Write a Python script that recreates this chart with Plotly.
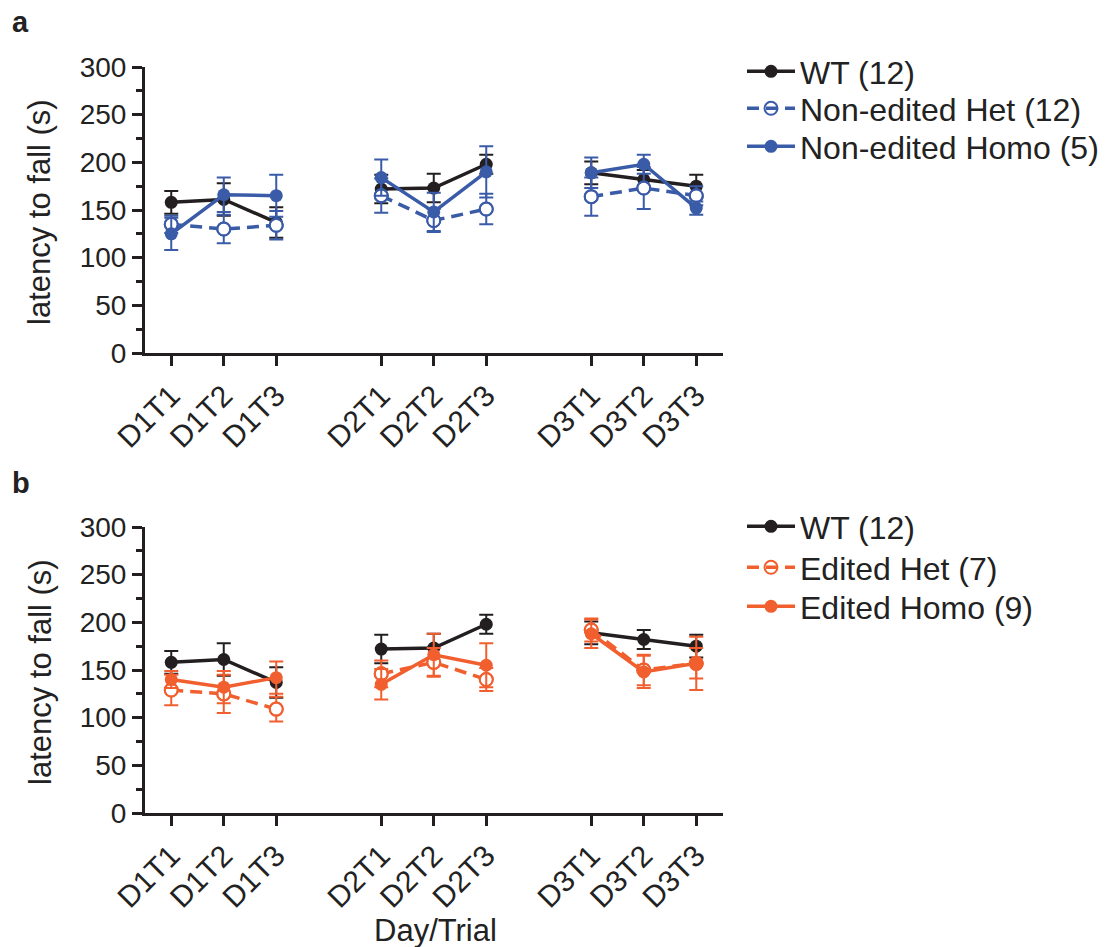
import plotly.graph_objects as go

W, H = 1106, 947

labels = ["D1T1", "D1T2", "D1T3", "D2T1", "D2T2", "D2T3", "D3T1", "D3T2", "D3T3"]
xpos = [0, 1, 2, 4, 5, 6, 8, 9, 10]
day = [1, 1, 1, 2, 2, 2, 3, 3, 3]

wt_mean = [158, 161, 137, 172, 173, 198, 189, 182, 175]
wt_sem = [12, 17, 16, 15, 15, 10, 12, 10, 12]

ne_het_mean = [135, 130, 134, 165, 139, 151, 164, 173, 165]
ne_het_sem = [9, 15, 15, 18, 12, 16, 20, 22, 10]
ne_homo_mean = [125, 166, 165, 184, 148, 190, 189, 198, 152]
ne_homo_sem = [17, 18, 22, 19, 20, 27, 16, 10, 7]

ed_het_mean = [129, 125, 109, 146, 158, 140, 192, 150, 157]
ed_het_sem = [16, 20, 13, 14, 15, 12, 12, 16, 16]
ed_homo_mean = [140, 132, 142, 135, 166, 155, 188, 148, 157]
ed_homo_sem = [9, 17, 17, 16, 22, 23, 15, 17, 28]

BLACK = "#231F20"
BLUE = "#3A5BA8"
ORANGE = "#F15F2E"
TXT = "#222222"
FONT = "Liberation Sans, Arial, sans-serif"


def split_days(x, y, e):
    """Insert gaps between days so that lines do not connect across days."""
    xs, ys, es = [], [], []
    for i in range(len(x)):
        if i > 0 and day[i] != day[i - 1]:
            xs.append(None)
            ys.append(None)
            es.append(None)
        xs.append(x[i])
        ys.append(y[i])
        es.append(e[i])
    return xs, ys, es


fig = go.Figure()


def add(y, e, name, color, xa, ya, legend, open_marker=False):
    xs, ys, es = split_days(xpos, y, e)
    fig.add_trace(go.Scatter(
        x=xs, y=ys, name=name, mode="lines+markers",
        xaxis=xa, yaxis=ya, legend=legend, connectgaps=False,
        line=dict(color=color, width=3.5, dash="12px,7px" if open_marker else "solid"),
        marker=dict(
            symbol="circle-open" if open_marker else "circle",
            size=13,
            color=color,
            line=dict(color=color, width=2 if open_marker else 0),
        ),
        error_y=dict(type="data", array=es, visible=True, color=color, thickness=2, width=7),
        cliponaxis=False,
    ))
    if open_marker:
        fig.add_trace(go.Scatter(
            x=xs, y=ys, mode="markers", xaxis=xa, yaxis=ya, showlegend=False,
            marker=dict(symbol="circle", size=11, color="white", line=dict(width=0)),
            hoverinfo="skip", cliponaxis=False,
        ))
        fig.add_trace(go.Scatter(
            x=xs, y=ys, mode="markers", xaxis=xa, yaxis=ya, showlegend=False,
            marker=dict(symbol="circle-open", size=13, color=color, line=dict(color=color, width=2)),
            hoverinfo="skip", cliponaxis=False,
        ))


add(wt_mean, wt_sem, "WT (12)", BLACK, "x", "y", "legend")
add(ne_het_mean, ne_het_sem, "Non-edited Het (12)", BLUE, "x", "y", "legend2", True)
add(ne_homo_mean, ne_homo_sem, "Non-edited Homo (5)", BLUE, "x", "y", "legend3")

add(wt_mean, wt_sem, "WT (12)", BLACK, "x2", "y2", "legend4")
add(ed_het_mean, ed_het_sem, "Edited Het (7)", ORANGE, "x2", "y2", "legend5", True)
add(ed_homo_mean, ed_homo_sem, "Edited Homo (9)", ORANGE, "x2", "y2", "legend6")

xdom = [145 / W, 722.5 / W]
ya_dom = [1 - 353 / H, 1 - 67 / H]
yb_dom = [1 - 813 / H, 1 - 527 / H]

xcommon = dict(
    domain=xdom, range=[-0.5, 10.5], tickvals=xpos, ticktext=labels, tickangle=-45,
    showline=True, linewidth=3, linecolor=BLACK, ticks="outside", ticklen=10,
    tickwidth=3, tickcolor=BLACK, showgrid=False, zeroline=False, automargin=False,
    tickfont=dict(size=30, color=TXT, family=FONT),
)
ycommon = dict(
    range=[0, 300], tickvals=[0, 50, 100, 150, 200, 250, 300],
    showline=True, linewidth=3, linecolor=BLACK, ticks="outside", ticklen=10,
    tickwidth=3, tickcolor=BLACK, showgrid=False, zeroline=False, automargin=False,
    tickfont=dict(size=28, color=TXT, family=FONT),
    minor=dict(dtick=25, ticks="outside", ticklen=6, tickwidth=3, tickcolor=BLACK, showgrid=False),
)

legfont = dict(size=32, color=TXT, family=FONT)
row_centres = [72, 109, 147, 527, 568, 607]
legends = {}
for i, yc in enumerate(row_centres):
    key = "legend" if i == 0 else f"legend{i + 1}"
    legends[key] = dict(x=742 / W, y=1 - (yc - 28) / H, xanchor="left", yanchor="top",
                        font=legfont, bgcolor="rgba(0,0,0,0)", itemwidth=48)

fig.update_layout(
    width=W, height=H,
    margin=dict(l=0, r=0, t=0, b=0, autoexpand=False),
    paper_bgcolor="white", plot_bgcolor="white",
    font=dict(family=FONT, color=TXT),
    xaxis=dict(**xcommon, anchor="y"),
    yaxis=dict(**ycommon, domain=ya_dom, anchor="x"),
    xaxis2=dict(**xcommon, anchor="y2"),
    yaxis2=dict(**ycommon, domain=yb_dom, anchor="x2"),
    showlegend=True,
    annotations=[
        dict(text="<b>a</b>", x=20 / W, y=1 - 22 / H, xref="paper", yref="paper",
             showarrow=False, font=dict(size=29, color=TXT), xanchor="center", yanchor="middle"),
        dict(text="<b>b</b>", x=21 / W, y=1 - 483 / H, xref="paper", yref="paper",
             showarrow=False, font=dict(size=29, color=TXT), xanchor="center", yanchor="middle"),
        dict(text="latency to fall (s)", x=40 / W, y=1 - 212 / H, xref="paper", yref="paper",
             showarrow=False, textangle=-90, font=dict(size=31, color=TXT),
             xanchor="center", yanchor="middle"),
        dict(text="latency to fall (s)", x=40 / W, y=1 - 672 / H, xref="paper", yref="paper",
             showarrow=False, textangle=-90, font=dict(size=31, color=TXT),
             xanchor="center", yanchor="middle"),
        dict(text="Day/Trial", x=435 / W, y=1 - 930 / H, xref="paper", yref="paper",
             showarrow=False, font=dict(size=31, color=TXT), xanchor="center", yanchor="middle"),
    ],
)
fig.update_layout(**legends)

fig.write_html("out.html")
